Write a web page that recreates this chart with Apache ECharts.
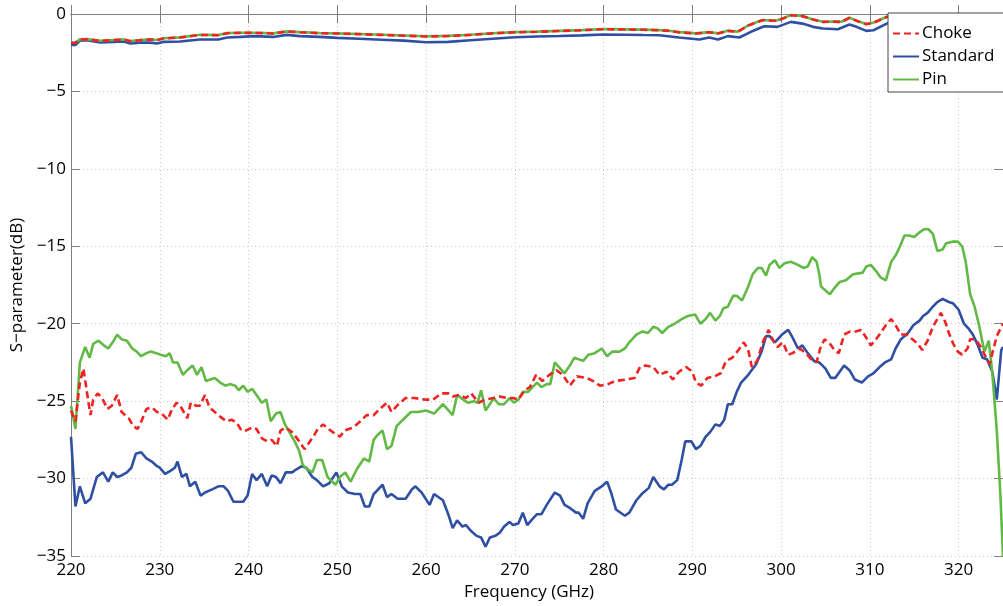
<!DOCTYPE html>
<html>
<head>
<meta charset="utf-8">
<script src="https://cdn.jsdelivr.net/npm/echarts@6/dist/echarts.min.js"></script>
<style>
  html, body { margin: 0; padding: 0; background: #fff; }
  #chart { width: 1003px; height: 606px; }
</style>
</head>
<body>
<div id="chart"></div>
<script>
  // [frequency GHz, dB]
  var legendNames = ['Choke', 'Standard', 'Pin'];

  var standardS11 = [
    [220.0,-27.3],[220.5,-31.8],[221.0,-30.5],[221.6,-31.6],[222.2,-31.3],[222.9,-29.9],[223.6,-29.6],
    [224.2,-30.2],[224.7,-29.6],[225.2,-29.9],[225.7,-29.8],[226.3,-29.6],[226.8,-29.3],[227.3,-28.4],
    [227.9,-28.3],[228.5,-28.7],[229.1,-28.9],[229.7,-29.2],[230.0,-29.3],[230.6,-29.7],[231.2,-29.5],
    [231.7,-29.3],[232.0,-28.9],[232.5,-29.9],[233.0,-29.7],[233.4,-30.5],[234.0,-30.2],[234.6,-31.1],
    [235.1,-30.9],[235.9,-30.7],[236.6,-30.5],[237.2,-30.5],[237.7,-30.8],[238.3,-31.5],[239.4,-31.5],
    [239.9,-31.1],[240.4,-29.7],[240.9,-30.1],[241.5,-29.7],[242.1,-30.5],[242.6,-29.8],[243.1,-29.9],
    [243.6,-30.3],[244.2,-29.6],[244.9,-29.6],[245.4,-29.4],[246.0,-29.2],[246.5,-29.3],[247.2,-29.9],
    [247.7,-30.1],[248.4,-30.5],[249.1,-30.3],[249.9,-29.6],[250.5,-30.5],[251.2,-30.9],[252.0,-31.0],
    [252.6,-31.0],[253.1,-31.8],[253.6,-31.8],[254.1,-31.0],[255.1,-30.4],[255.6,-31.2],[256.1,-31.0],
    [256.8,-31.3],[257.7,-31.3],[258.4,-30.7],[258.8,-30.5],[259.5,-30.9],[260.4,-31.7],[260.9,-31.0],
    [261.9,-31.4],[262.5,-32.3],[263.0,-33.2],[263.5,-32.7],[264.1,-33.1],[264.5,-33.0],[265.1,-33.4],
    [265.7,-33.7],[266.2,-33.8],[266.7,-34.4],[267.2,-33.8],[267.8,-33.7],[268.3,-33.5],[268.8,-33.1],
    [269.4,-32.8],[269.8,-33.0],[270.4,-32.9],[270.9,-32.2],[271.4,-33.0],[272.0,-32.6],[272.5,-32.3],
    [273.0,-32.3],[273.6,-31.7],[274.5,-30.9],[275.1,-31.1],[275.6,-31.7],[276.2,-31.9],[276.9,-32.2],
    [277.2,-32.2],[277.7,-32.6],[278.2,-31.6],[279.0,-30.8],[279.8,-30.5],[280.4,-30.2],[280.9,-31.0],
    [281.4,-32.0],[282.4,-32.4],[282.9,-32.2],[283.7,-31.4],[284.3,-31.0],[285.1,-30.6],[285.6,-29.9],
    [286.3,-30.5],[286.8,-30.7],[287.3,-30.4],[287.7,-30.4],[288.3,-30.1],[288.8,-28.8],[289.2,-27.6],
    [289.9,-27.6],[290.4,-28.1],[290.9,-27.9],[291.5,-27.3],[292.0,-27.0],[292.6,-26.5],[293.1,-26.6],
    [293.6,-26.2],[294.0,-25.2],[294.5,-25.2],[295.0,-24.4],[295.5,-23.8],[296.3,-23.3],[297.2,-22.6],
    [297.8,-21.8],[298.3,-20.8],[298.7,-20.8],[299.3,-21.2],[300.1,-20.7],[300.8,-20.4],[301.3,-20.9],
    [301.9,-21.6],[302.4,-21.4],[303.0,-21.9],[303.7,-22.4],[304.3,-22.5],[305.0,-22.9],[305.6,-23.5],
    [306.1,-23.5],[306.6,-23.1],[307.1,-22.7],[307.7,-23.0],[308.3,-23.6],[309.1,-23.8],[309.8,-23.4],
    [310.4,-23.2],[311.1,-22.8],[311.7,-22.5],[312.4,-22.3],[312.9,-21.6],[313.5,-21.0],[314.3,-20.6],
    [314.9,-20.1],[315.6,-19.8],[316.0,-19.5],[316.5,-19.3],[317.1,-18.9],[317.6,-18.6],[318.2,-18.4],
    [318.9,-18.6],[319.4,-18.7],[320.0,-19.1],[320.6,-20.0],[321.1,-20.3],[321.6,-20.7],[322.1,-21.3],
    [322.7,-22.2],[323.2,-22.3],[323.8,-23.1],[324.3,-24.9],[324.8,-21.7],[325.0,-21.5]
  ];

  var pinS11 = [
    [220.0,-25.3],[220.5,-26.8],[221.0,-22.5],[221.6,-21.5],[222.1,-22.2],[222.5,-21.3],[223.1,-21.1],
    [223.7,-21.4],[224.2,-21.6],[224.7,-21.2],[225.2,-20.7],[225.7,-21.0],[226.3,-21.1],[226.9,-21.6],
    [227.4,-21.8],[227.9,-22.1],[228.5,-21.9],[229.0,-21.8],[229.6,-21.9],[230.1,-22.0],[230.7,-22.1],
    [231.1,-21.9],[231.5,-22.5],[232.0,-22.5],[232.6,-23.3],[233.1,-23.0],[233.7,-22.7],[234.2,-23.3],
    [234.7,-22.8],[235.2,-23.7],[235.7,-23.6],[236.2,-23.5],[236.8,-23.8],[237.4,-24.0],[237.9,-23.9],
    [238.5,-24.0],[238.9,-24.3],[239.4,-24.0],[239.9,-24.4],[240.4,-24.2],[240.9,-24.6],[241.5,-25.1],
    [242.0,-24.9],[242.5,-26.3],[243.1,-25.8],[243.6,-25.7],[244.1,-26.5],[244.7,-27.1],[245.2,-27.6],
    [245.7,-28.2],[246.1,-29.1],[246.4,-29.3],[247.2,-29.6],[247.7,-28.8],[248.3,-28.8],[248.9,-29.9],
    [249.8,-30.4],[250.3,-29.9],[250.9,-29.6],[251.5,-30.2],[252.2,-29.4],[253.0,-28.7],[253.6,-28.9],
    [254.1,-27.5],[254.5,-27.2],[255.1,-26.9],[255.6,-28.1],[256.1,-27.9],[256.7,-26.6],[257.4,-26.2],
    [258.3,-25.7],[259.1,-25.7],[260.0,-25.6],[260.9,-25.8],[261.9,-25.2],[263.0,-25.9],[263.5,-24.6],
    [264.2,-24.9],[264.7,-25.1],[265.4,-25.0],[265.8,-25.1],[266.2,-24.3],[266.7,-25.6],[267.3,-25.1],
    [267.6,-24.8],[268.2,-25.2],[268.8,-25.2],[269.4,-24.8],[269.9,-25.1],[270.4,-24.9],[270.9,-24.4],
    [271.5,-24.4],[272.0,-24.1],[272.5,-23.8],[273.0,-24.1],[273.6,-23.9],[274.0,-23.9],[274.5,-22.5],
    [275.6,-23.2],[276.2,-22.7],[276.7,-22.2],[277.7,-22.4],[278.3,-22.0],[279.0,-21.9],[279.8,-21.6],
    [280.4,-22.1],[281.0,-21.8],[281.8,-21.8],[282.4,-21.6],[282.9,-21.2],[283.7,-20.7],[284.4,-20.5],
    [285.0,-20.6],[285.6,-20.2],[286.1,-20.3],[286.6,-20.6],[287.3,-20.2],[288.0,-20.0],[288.8,-19.7],
    [289.5,-19.5],[290.3,-19.4],[290.9,-20.0],[291.5,-19.7],[292.0,-19.3],[292.6,-19.8],[293.1,-19.5],
    [293.5,-19.0],[294.0,-18.9],[294.6,-18.2],[295.0,-18.2],[295.6,-18.5],[296.3,-17.6],[296.8,-16.8],
    [297.4,-16.4],[297.8,-16.4],[298.3,-16.9],[298.7,-16.2],[299.3,-15.9],[299.8,-16.4],[300.4,-16.1],
    [301.1,-16.0],[301.9,-16.2],[302.5,-16.4],[303.0,-16.3],[303.5,-15.7],[304.0,-16.0],[304.3,-16.8],
    [304.5,-17.6],[305.1,-17.9],[305.5,-18.1],[306.0,-17.7],[306.6,-17.3],[307.3,-17.2],[308.1,-16.8],
    [309.2,-16.7],[309.6,-16.3],[310.1,-16.2],[310.7,-16.6],[311.2,-17.0],[311.8,-17.2],[312.4,-16.0],
    [312.9,-15.6],[313.4,-15.0],[313.9,-14.3],[314.4,-14.3],[315.0,-14.4],[315.6,-14.1],[316.1,-13.9],
    [316.6,-13.9],[317.1,-14.2],[317.6,-15.3],[318.2,-15.2],[318.6,-14.8],[319.3,-14.7],[319.9,-14.7],
    [320.4,-15.0],[320.8,-16.0],[321.3,-18.1],[321.8,-18.9],[322.3,-20.1],[322.9,-21.8],[323.4,-21.1],
    [323.8,-23.2],[324.3,-26.9],[324.7,-31.0],[325.0,-35.0]
  ];

  var chokeS11 = [
    [220.0,-25.6],[220.5,-26.3],[221.0,-23.8],[221.4,-22.9],[222.0,-25.2],[222.2,-25.9],[222.5,-24.9],
    [223.0,-24.5],[223.5,-24.8],[224.1,-25.5],[224.6,-25.3],[225.2,-24.6],[225.7,-25.7],[226.5,-26.1],
    [227.0,-26.6],[227.5,-26.8],[228.0,-26.2],[228.5,-25.5],[229.1,-25.4],[229.7,-25.7],[230.2,-25.8],
    [230.9,-26.2],[231.4,-25.5],[231.9,-25.1],[232.3,-25.3],[232.7,-25.7],[233.1,-26.1],[233.5,-25.1],
    [234.1,-25.3],[234.5,-25.3],[235.1,-24.6],[235.6,-25.4],[236.2,-25.7],[236.8,-26.0],[237.5,-26.3],
    [238.1,-26.2],[238.7,-26.4],[239.2,-26.9],[239.7,-26.9],[240.4,-26.7],[240.9,-26.8],[241.5,-27.4],
    [242.1,-27.6],[242.6,-27.5],[243.2,-27.9],[243.6,-26.9],[244.2,-26.7],[244.9,-27.0],[245.6,-27.5],
    [246.3,-28.1],[246.8,-27.7],[247.4,-27.2],[247.8,-26.8],[248.4,-26.5],[249.0,-26.8],[249.5,-27.0],
    [250.3,-27.3],[250.8,-26.9],[251.8,-26.7],[252.6,-26.3],[253.3,-25.9],[254.1,-25.9],[254.8,-25.5],
    [255.6,-25.1],[256.1,-25.7],[256.9,-25.2],[257.7,-24.8],[258.7,-24.8],[259.9,-24.9],[260.8,-24.9],
    [261.7,-24.5],[262.5,-24.5],[263.0,-24.7],[263.8,-24.6],[264.5,-24.8],[265.1,-24.5],[265.9,-25.1],
    [266.7,-24.9],[267.6,-24.8],[268.3,-24.7],[269.1,-24.8],[269.8,-24.8],[270.4,-24.9],[271.1,-24.3],
    [271.7,-24.1],[272.4,-23.3],[273.1,-23.7],[273.9,-23.3],[274.7,-23.0],[275.4,-23.3],[276.2,-24.0],
    [277.0,-23.4],[278.1,-23.5],[278.8,-23.7],[279.6,-24.0],[280.5,-23.9],[281.3,-23.7],[282.6,-23.6],
    [283.5,-23.5],[284.1,-22.8],[284.7,-22.7],[285.6,-22.8],[286.3,-23.3],[287.1,-23.1],[287.8,-23.6],
    [288.5,-23.1],[289.3,-22.8],[290.0,-23.1],[290.4,-23.8],[291.0,-24.0],[291.7,-23.5],[292.5,-23.4],
    [293.2,-23.2],[293.8,-22.4],[294.5,-22.2],[295.2,-21.7],[295.8,-21.2],[296.3,-21.7],[296.7,-22.8],
    [297.3,-22.4],[298.0,-21.1],[298.6,-20.4],[299.1,-21.1],[299.6,-21.5],[300.2,-21.2],[300.8,-22.0],
    [301.3,-21.9],[302.1,-21.6],[302.8,-21.9],[303.4,-22.3],[304.0,-22.5],[304.4,-21.6],[304.9,-21.0],
    [305.5,-21.3],[306.0,-21.7],[306.5,-21.9],[307.1,-20.7],[307.8,-20.5],[308.4,-20.5],[309.0,-20.4],
    [309.6,-20.9],[310.1,-21.4],[310.7,-21.0],[311.2,-20.6],[311.8,-20.1],[312.4,-19.7],[312.9,-20.1],
    [313.5,-20.7],[314.1,-20.7],[314.8,-21.0],[315.4,-21.3],[315.9,-21.7],[316.5,-21.1],[317.1,-20.2],
    [317.5,-19.8],[318.0,-19.3],[318.5,-19.9],[318.9,-20.6],[319.4,-21.3],[319.9,-21.8],[320.4,-22.0],
    [321.0,-21.6],[321.3,-21.0],[321.9,-21.0],[322.5,-21.5],[323.1,-22.2],[323.5,-22.6],[323.8,-21.9],
    [324.3,-20.8],[324.8,-20.2],[325.0,-20.0]
  ];

  var chokeS21 = [
    [220.0,-1.87],[220.5,-1.87],[221.0,-1.65],[221.8,-1.63],[223.3,-1.74],[224.8,-1.69],[225.9,-1.65],
    [226.7,-1.76],[227.8,-1.69],[228.9,-1.65],[229.7,-1.69],[230.4,-1.58],[232.3,-1.52],[234.5,-1.35],
    [236.6,-1.37],[237.6,-1.24],[239.1,-1.22],[240.6,-1.22],[242.8,-1.26],[244.3,-1.13],[245.8,-1.18],
    [248.0,-1.24],[250.0,-1.26],[252.5,-1.30],[255.0,-1.35],[257.5,-1.40],[260.0,-1.45],[262.5,-1.42],
    [265.0,-1.35],[267.5,-1.25],[270.0,-1.18],[272.5,-1.15],[275.0,-1.10],[277.5,-1.05],[280.0,-0.98],
    [282.5,-1.00],[284.5,-1.02],[286.3,-1.05],[287.4,-1.09],[288.5,-1.18],[290.4,-1.26],[291.9,-1.18],
    [292.9,-1.26],[294.0,-1.09],[295.1,-1.15],[296.4,-0.72],[297.9,-0.40],[299.4,-0.44],[300.0,-0.34],
    [301.1,-0.08],[302.4,-0.14],[303.6,-0.36],[304.7,-0.51],[305.8,-0.49],[306.8,-0.51],[307.7,-0.25],
    [308.5,-0.44],[309.6,-0.66],[310.4,-0.57],[311.9,-0.19],[313.0,-0.10],[315.0,-0.08],[317.0,-0.15],
    [319.0,-0.25],[321.0,-0.30],[323.0,-0.35],[325.0,-0.40]
  ];

  var pinS21 = [
    [220.0,-1.85],[220.5,-1.85],[221.0,-1.64],[221.8,-1.62],[223.3,-1.73],[224.8,-1.68],[225.9,-1.64],
    [226.7,-1.75],[227.8,-1.68],[228.9,-1.64],[229.7,-1.68],[230.4,-1.57],[232.3,-1.51],[234.5,-1.34],
    [236.6,-1.36],[237.6,-1.23],[239.1,-1.21],[240.6,-1.21],[242.8,-1.25],[244.3,-1.12],[245.8,-1.17],
    [248.0,-1.23],[250.0,-1.25],[252.5,-1.29],[255.0,-1.34],[257.5,-1.39],[260.0,-1.44],[262.5,-1.41],
    [265.0,-1.34],[267.5,-1.24],[270.0,-1.17],[272.5,-1.14],[275.0,-1.09],[277.5,-1.04],[280.0,-0.97],
    [282.5,-0.99],[284.5,-1.01],[286.3,-1.04],[287.4,-1.08],[288.5,-1.17],[290.4,-1.25],[291.9,-1.17],
    [292.9,-1.25],[294.0,-1.08],[295.1,-1.14],[296.4,-0.71],[297.9,-0.39],[299.4,-0.43],[300.0,-0.33],
    [301.1,-0.07],[302.4,-0.13],[303.6,-0.35],[304.7,-0.50],[305.8,-0.48],[306.8,-0.50],[307.7,-0.24],
    [308.5,-0.43],[309.6,-0.65],[310.4,-0.56],[311.9,-0.18],[313.0,-0.09],[315.0,-0.07],[317.0,-0.14],
    [319.0,-0.24],[321.0,-0.29],[323.0,-0.34],[325.0,-0.39]
  ];

  var standardS21 = [
    [220.0,-2.00],[220.5,-2.00],[221.0,-1.72],[221.8,-1.70],[223.3,-1.84],[224.8,-1.80],[225.9,-1.78],
    [226.7,-1.90],[227.8,-1.85],[228.9,-1.85],[229.7,-1.90],[230.4,-1.80],[232.3,-1.78],[234.5,-1.65],
    [236.6,-1.65],[237.6,-1.52],[239.1,-1.48],[240.6,-1.43],[242.8,-1.48],[244.3,-1.35],[245.8,-1.43],
    [248.0,-1.48],[250.0,-1.54],[252.5,-1.60],[255.0,-1.66],[257.5,-1.72],[260.0,-1.82],[262.5,-1.80],
    [265.0,-1.70],[267.5,-1.60],[270.0,-1.50],[272.5,-1.45],[275.0,-1.42],[277.5,-1.38],[280.0,-1.32],
    [282.5,-1.34],[284.5,-1.36],[286.3,-1.37],[288.5,-1.52],[290.8,-1.65],[291.9,-1.52],[292.9,-1.65],
    [294.0,-1.43],[295.3,-1.52],[296.6,-1.15],[298.1,-0.79],[299.6,-0.83],[301.1,-0.51],[302.4,-0.62],
    [303.6,-0.83],[304.7,-0.94],[306.4,-0.98],[307.7,-0.68],[308.5,-0.83],[309.6,-1.09],[310.4,-1.05],
    [311.9,-0.62],[313.0,-0.45],[315.0,-0.40],[317.0,-0.50],[319.0,-0.60],[321.0,-0.70],[323.0,-0.75],
    [325.0,-0.80]
  ];

  var FONT = '"Open Sans", "DejaVu Sans", sans-serif';
  var RED = '#ee2424', BLUE = '#2f4fa2', GREEN = '#62b946';
  var AXIS = '#7f7f7f';

  function minusSign(v) {
    return String(v).replace('-', '\u2212');
  }

  function lineSeries(name, data, color, dashed) {
    return {
      name: name,
      type: 'line',
      data: data,
      symbol: 'none',
      smooth: false,
      lineStyle: { color: color, width: 2.6, type: dashed ? [7, 4] : 'solid' },
      itemStyle: { color: color }
    };
  }

  var chart = echarts.init(document.getElementById('chart'));
  chart.setOption({
    animation: false,
    backgroundColor: '#fff',
    textStyle: { fontFamily: FONT },
    grid: { left: 71, right: -1, top: 14, bottom: 50 },
    legend: {
      data: legendNames,
      orient: 'vertical',
      left: 888,
      top: 13,
      padding: [12, 20, 4, 4],
      itemGap: 6,
      itemWidth: 26,
      itemHeight: 14,
      backgroundColor: '#fff',
      borderColor: '#444',
      borderWidth: 1,
      borderRadius: 0,
      itemStyle: { opacity: 0 },
      textStyle: { fontFamily: FONT, fontSize: 17, color: '#000', padding: [0, 0, 0, -2] }
    },
    xAxis: [{
      type: 'value',
      min: 220, max: 325, interval: 10,
      name: 'Frequency (GHz)',
      nameLocation: 'middle',
      nameGap: 25,
      nameTextStyle: { fontFamily: FONT, fontSize: 17, color: '#000', padding: [0, 16, 0, 0] },
      axisLine: { lineStyle: { color: AXIS, width: 1 } },
      axisTick: { inside: true, length: 9, lineStyle: { color: AXIS } },
      axisLabel: { fontFamily: FONT, fontSize: 17, color: '#000', margin: 6, showMaxLabel: false },
      splitLine: { show: true, lineStyle: { color: '#c8c8c8', type: [1, 3], width: 1 } }
    }, {
      type: 'value',
      position: 'top',
      min: 220, max: 325, interval: 10,
      axisLine: { lineStyle: { color: AXIS, width: 1 } },
      axisTick: { inside: true, length: 9, lineStyle: { color: AXIS } },
      axisLabel: { show: false },
      splitLine: { show: false }
    }],
    yAxis: [{
      type: 'value',
      min: -35, max: 0, interval: 5,
      name: 'S\u2212parameter(dB)',
      nameLocation: 'middle',
      nameGap: 40,
      nameTextStyle: { fontFamily: FONT, fontSize: 17, color: '#000' },
      axisLine: { show: true, lineStyle: { color: AXIS, width: 1 } },
      axisTick: { show: true, inside: true, length: 9, lineStyle: { color: AXIS } },
      axisLabel: { fontFamily: FONT, fontSize: 17, color: '#000', margin: 5, formatter: minusSign },
      splitLine: { show: true, lineStyle: { color: '#c8c8c8', type: [1, 3], width: 1 } }
    }, {
      type: 'value',
      position: 'right',
      min: -35, max: 0, interval: 5,
      axisLine: { show: true, lineStyle: { color: AXIS, width: 1 } },
      axisTick: { show: true, inside: true, length: 9, lineStyle: { color: AXIS } },
      axisLabel: { show: false },
      splitLine: { show: false }
    }],
    series: [
      lineSeries('Standard', standardS21, BLUE, false),
      lineSeries('Pin', pinS21, GREEN, false),
      lineSeries('Choke', chokeS21, RED, true),
      lineSeries('Standard', standardS11, BLUE, false),
      lineSeries('Pin', pinS11, GREEN, false),
      lineSeries('Choke', chokeS11, RED, true)
    ]
  });
</script>
</body>
</html>
